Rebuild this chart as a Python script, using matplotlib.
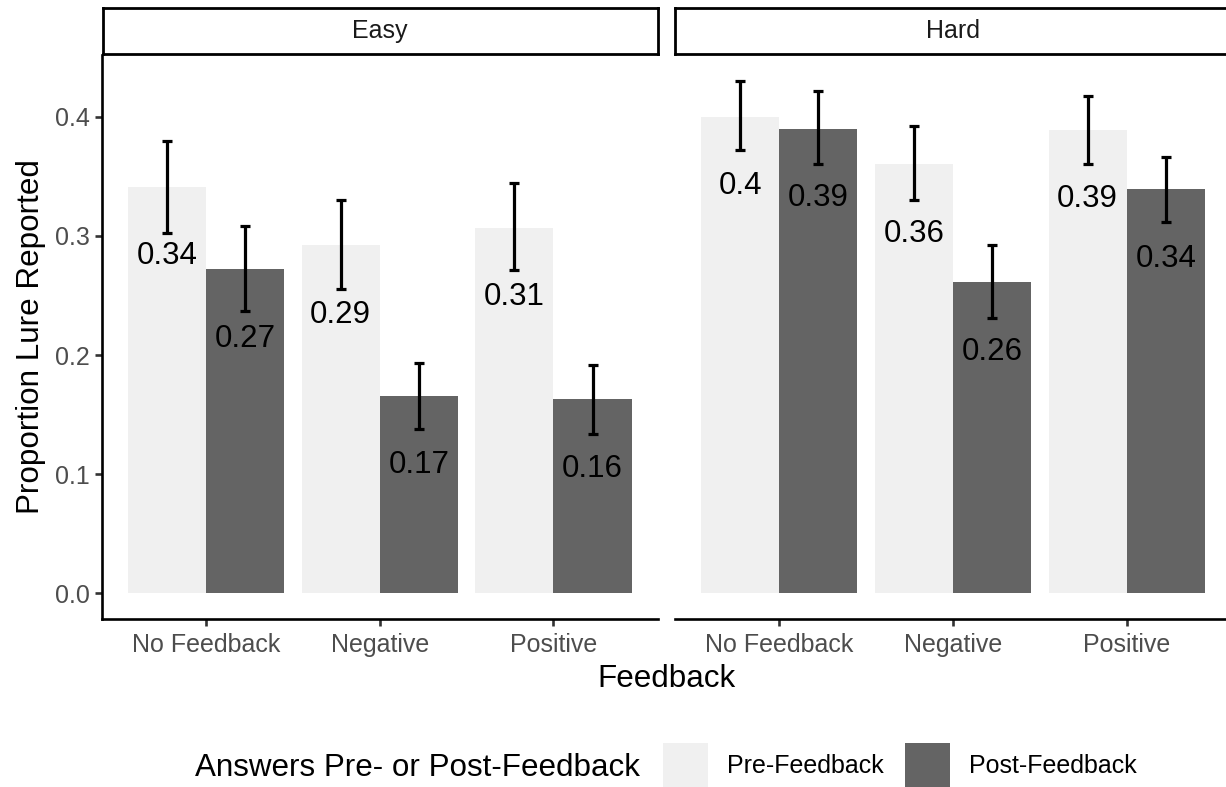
"""
Proportion of lure items reported, pre vs post feedback, split by difficulty.
Recreated ggplot-style faceted bar chart (facet strips, classic theme).
"""
import matplotlib
matplotlib.use('Agg')
import matplotlib.pyplot as plt
from matplotlib.patches import Patch
import numpy as np

plt.rcParams['font.family'] = ['Liberation Sans', 'DejaVu Sans']

# ---- Data ----
FEEDBACK = ['No Feedback', 'Negative', 'Positive']
PANELS = ['Easy', 'Hard']
GROUPS = ['Pre-Feedback', 'Post-Feedback']

EASY_PRE = [0.341, 0.292, 0.307]
EASY_POST = [0.272, 0.166, 0.163]
EASY_PRE_LO = [0.302, 0.255, 0.271]
EASY_PRE_HI = [0.380, 0.330, 0.344]
EASY_POST_LO = [0.237, 0.138, 0.134]
EASY_POST_HI = [0.308, 0.193, 0.192]

HARD_PRE = [0.400, 0.360, 0.389]
HARD_POST = [0.390, 0.261, 0.339]
HARD_PRE_LO = [0.372, 0.330, 0.360]
HARD_PRE_HI = [0.430, 0.392, 0.417]
HARD_POST_LO = [0.360, 0.231, 0.312]
HARD_POST_HI = [0.422, 0.292, 0.366]

Y_TICKS = [0.0, 0.1, 0.2, 0.3, 0.4]

COLORS = ['#F0F0F0', '#646464']
W, H = 1226, 787


def fx(px):
    return px / W


def fy(py):
    return 1 - py / H


def draw_panel(ax, pre, post, pre_err, post_err, show_y):
    x = np.arange(len(FEEDBACK))
    width = 0.45
    for off, vals, err, col in [(-width / 2, pre, pre_err, COLORS[0]),
                                (width / 2, post, post_err, COLORS[1])]:
        ax.bar(x + off, vals, width, color=col, zorder=1)
        lo, hi = err
        yerr = [np.array(vals) - np.array(lo), np.array(hi) - np.array(vals)]
        ax.errorbar(x + off, vals, yerr=yerr, fmt='none', ecolor='black',
                    elinewidth=2.3, capsize=3.3, capthick=2.3, zorder=3)
        for xi, v in zip(x + off, vals):
            ax.annotate(f'{round(v, 2):g}', (xi, v), xytext=(0, -50),
                        textcoords='offset points', ha='center', va='center',
                        fontsize=22.5, color='black', zorder=4)

    ax.set_xlim(-0.6, 2.6)
    ax.set_ylim(-0.0218, 0.4518)
    ax.set_xticks(x)
    ax.set_xticklabels(FEEDBACK, fontsize=18, color='#4D4D4D')
    ax.set_yticks(Y_TICKS)
    ax.set_yticklabels([f'{t:.1f}' for t in Y_TICKS], fontsize=18, color='#4D4D4D')
    ax.tick_params(length=4.7, width=1.9, color='#333333', pad=4)
    ax.tick_params(axis='x', pad=5.5)
    for s in ['top', 'right']:
        ax.spines[s].set_visible(False)
    ax.spines['bottom'].set_linewidth(1.9)
    ax.spines['left'].set_linewidth(1.9)
    if not show_y:
        ax.spines['left'].set_visible(False)
        ax.tick_params(axis='y', left=False, labelleft=False)


def draw_strip(fig, left, width, label):
    sax = fig.add_axes([left, fy(54), width, 46 / H])
    sax.set_xticks([])
    sax.set_yticks([])
    for s in sax.spines.values():
        s.set_linewidth(2)
        s.set_color('black')
    sax.text(0.5, 0.5, label, ha='center', va='center', fontsize=18,
             color='#1A1A1A', transform=sax.transAxes)


def main():
    fig = plt.figure(figsize=(W / 100, H / 100), dpi=100)

    panel_w = fx(556)
    bottom, top = fy(619.3), fy(55)
    lefts = [fx(101.7), fx(675)]

    ax_easy = fig.add_axes([lefts[0], bottom, panel_w, top - bottom])
    ax_hard = fig.add_axes([lefts[1], bottom, panel_w, top - bottom])

    draw_panel(ax_easy, EASY_PRE, EASY_POST,
               (EASY_PRE_LO, EASY_PRE_HI), (EASY_POST_LO, EASY_POST_HI), True)
    draw_panel(ax_hard, HARD_PRE, HARD_POST,
               (HARD_PRE_LO, HARD_PRE_HI), (HARD_POST_LO, HARD_POST_HI), False)

    draw_strip(fig, lefts[0] + fx(1), panel_w - fx(1), PANELS[0])
    draw_strip(fig, lefts[1], panel_w, PANELS[1])

    fig.text(fx(31), fy(337), 'Proportion Lure Reported', rotation=90,
             ha='center', va='center', fontsize=22.6, color='black')
    fig.text(fx(667), fy(679), 'Feedback', ha='center', va='center',
             fontsize=22.6, color='black')

    # legend: title on the left, keys in a row
    fig.text(fx(195), fy(768), 'Answers Pre- or Post-Feedback', ha='left',
             va='center', fontsize=22.6, color='black')
    handles = [Patch(facecolor=c, edgecolor='none') for c in COLORS]
    fig.legend(handles, GROUPS, loc='center left',
               bbox_to_anchor=(fx(663), fy(765.5)), ncol=2, frameon=False,
               fontsize=18, handlelength=1.8, handleheight=2.39,
               handletextpad=0.76, columnspacing=0.84, borderpad=0,
               borderaxespad=0)

    fig.savefig('out.png', dpi=100)
    plt.close(fig)


if __name__ == '__main__':
    main()
